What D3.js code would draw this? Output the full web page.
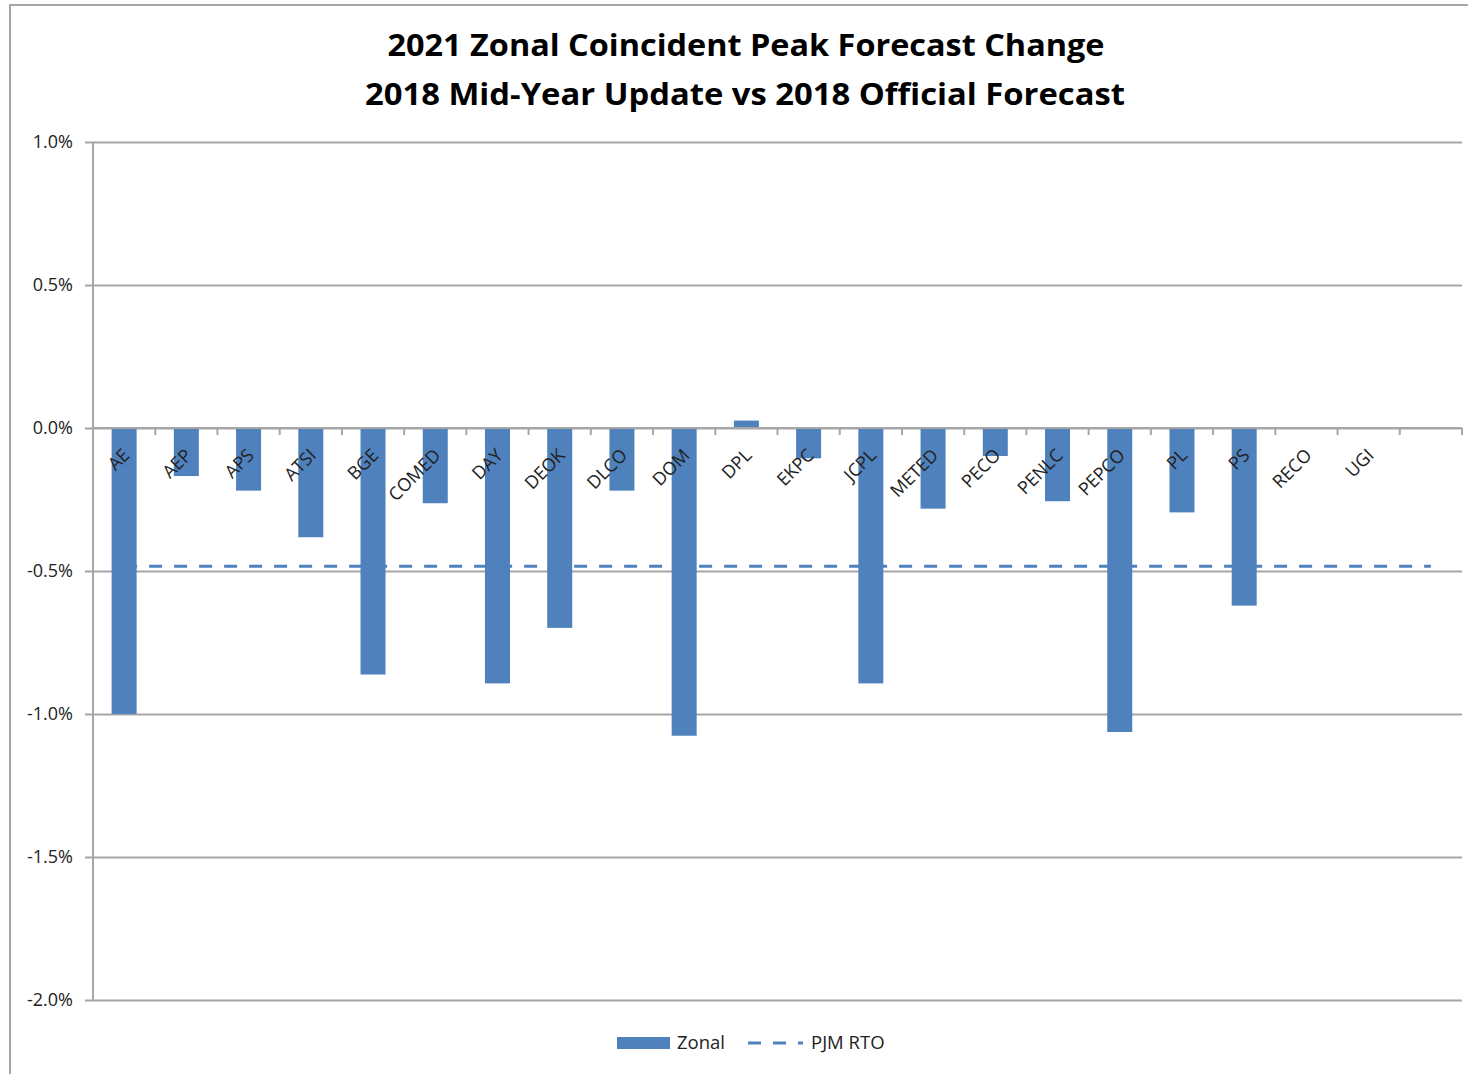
<!DOCTYPE html>
<html>
<head>
<meta charset="utf-8">
<script src="https://cdn.jsdelivr.net/npm/d3@7"></script>
<style>
  body { margin: 0; background: #fff; }
  svg { display: block; }
</style>
</head>
<body>
<div id="chart"></div>
<script>
// zones in the order they appear; the last slot is left blank like the source
const zones = ["AE", "AEP", "APS", "ATSI", "BGE", "COMED", "DAY", "DEOK", "DLCO", "DOM", "DPL",
  "EKPC", "JCPL", "METED", "PECO", "PENLC", "PEPCO", "PL", "PS", "RECO", "UGI", ""]
// zonal change in percent
const zonal = [-1.00, -0.168, -0.219, -0.382, -0.862, -0.263, -0.893, -0.699, -0.219, -1.076, 0.026,
  -0.106, -0.893, -0.282, -0.098, -0.256, -1.063, -0.295, -0.621, 0, 0, null]
// RTO change (same for every zone)
const rto = zones.map(() => -0.483)
const yTicks = [1.0, 0.5, 0.0, -0.5, -1.0, -1.5, -2.0]
const titleLines = ["2021 Zonal Coincident Peak Forecast Change",
  "2018 Mid-Year Update vs 2018 Official Forecast"]

const W = 1468, H = 1074,
  plotL = 93, plotR = 1462, plotT = 142, plotB = 1000,
  BLUE = "#4f81bd", GRID = "#a6a6a6",
  FONT = "'Open Sans', sans-serif"

const svg = d3.select("#chart").append("svg")
  .attr("width", W)
  .attr("height", H)

// outer chart frame (right and bottom edges fall off the picture)
svg.append("rect")
  .attr("x", 10).attr("y", 5)
  .attr("width", W + 20).attr("height", H + 20)
  .style("fill", "none")
  .style("stroke", GRID)
  .style("stroke-width", 2)

svg.selectAll("text.title")
  .data(titleLines)
  .join("text")
  .attr("class", "title")
  .attr("x", (d, i) => i ? 745 : 746)
  .attr("y", (d, i) => i ? 105 : 56)
  .attr("text-anchor", "middle")
  .attr("textLength", (d, i) => i ? 760 : 717)
  .attr("lengthAdjust", "spacingAndGlyphs")
  .style("font-family", FONT)
  .style("font-weight", 700)
  .style("font-size", "31px")
  .style("fill", "#000")
  .text(d => d)

const xb = d3.scaleBand().domain(d3.range(zones.length)).range([plotL, plotR])
const y = d3.scaleLinear().domain([-2, 1]).range([plotB, plotT])

// gridlines + y axis
const yAxis = svg.append("g")
  .attr("transform", `translate(${plotL},0)`)
  .call(d3.axisLeft(y)
    .tickValues(yTicks)
    .tickSize(-(plotR - plotL))
    .tickPadding(20)
    .tickFormat(d => d.toFixed(1) + "%"))
yAxis.select(".domain").remove()
yAxis.selectAll(".tick line")
  .attr("x1", -8)
  .style("stroke", GRID)
  .style("stroke-width", 2)
yAxis.selectAll(".tick text")
  .style("font-family", FONT)
  .style("font-size", "18px")
  .style("fill", "#222")

svg.append("line")
  .attr("x1", plotL).attr("x2", plotL)
  .attr("y1", plotT).attr("y2", plotB)
  .style("stroke", GRID)
  .style("stroke-width", 2)

// bars
svg.selectAll("rect.bar")
  .data(zonal.map((v, i) => ({ v, i })).filter(d => d.v !== null && d.v !== 0))
  .join("rect")
  .attr("class", "bar")
  .attr("x", d => xb(d.i) + xb.bandwidth() / 2 - 12.5)
  .attr("width", 25)
  .attr("y", d => y(Math.max(0, d.v)))
  .attr("height", d => Math.abs(y(d.v) - y(0)))
  .style("fill", BLUE)

// zero axis with category ticks at band edges
const y0 = y(0)
svg.append("line")
  .attr("x1", plotL).attr("x2", plotR)
  .attr("y1", y0).attr("y2", y0)
  .style("stroke", GRID)
  .style("stroke-width", 2)
svg.selectAll("line.xtick")
  .data(d3.range(zones.length + 1))
  .join("line")
  .attr("class", "xtick")
  .attr("x1", i => plotL + i * xb.step())
  .attr("x2", i => plotL + i * xb.step())
  .attr("y1", y0).attr("y2", y0 + 7)
  .style("stroke", GRID)
  .style("stroke-width", 2)

svg.selectAll("text.cat")
  .data(zones)
  .join("text")
  .attr("class", "cat")
  .attr("transform", (d, i) => `translate(${xb(i) + xb.bandwidth() / 2 + 2},${y0 + 24}) rotate(-45)`)
  .attr("text-anchor", "end")
  .attr("dy", "0.35em")
  .style("font-family", FONT)
  .style("font-size", "18px")
  .style("fill", "#222")
  .text(d => d)

// PJM RTO dashed line
const line = d3.line()
  .x((d, i) => xb(i) + xb.bandwidth() / 2)
  .y(d => y(d))
svg.append("path")
  .datum(rto)
  .attr("d", line)
  .style("fill", "none")
  .style("stroke", BLUE)
  .style("stroke-width", 3)
  .style("stroke-dasharray", "13,12")

// legend
const lg = svg.append("g").attr("transform", "translate(0,1043)")
lg.append("rect")
  .attr("x", 617).attr("y", -6)
  .attr("width", 53).attr("height", 12)
  .style("fill", BLUE)
lg.append("text")
  .attr("x", 677).attr("dy", "0.35em")
  .style("font-family", FONT)
  .style("font-size", "18.5px")
  .style("fill", "#222")
  .text("Zonal")
lg.append("line")
  .attr("x1", 748).attr("x2", 803)
  .attr("y1", 0).attr("y2", 0)
  .style("stroke", BLUE)
  .style("stroke-width", 3)
  .style("stroke-dasharray", "13,12")
lg.append("text")
  .attr("x", 811).attr("dy", "0.35em")
  .style("font-family", FONT)
  .style("font-size", "18.5px")
  .style("fill", "#222")
  .text("PJM RTO")
</script>
</body>
</html>
